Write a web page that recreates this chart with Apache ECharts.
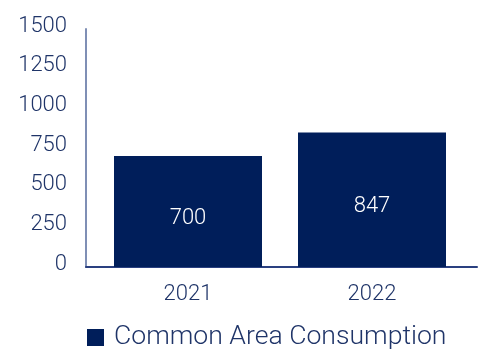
<!DOCTYPE html>
<html>
<head>
<meta charset="utf-8">
<script src="https://cdn.jsdelivr.net/npm/echarts@6/dist/echarts.min.js"></script>
<style>
  html, body { margin: 0; padding: 0; background: #ffffff; }
  #chart { width: 478px; height: 349px; }
</style>
</head>
<body>
<div id="chart"></div>
<script>
// Yearly common-area consumption
const years = ['2021', '2022'];
const consumption = [700, 847];
const seriesName = 'Common Area Consumption';
const yTicks = [0, 250, 500, 750, 1000, 1250, 1500];

const navy = '#001e5a';
const textColor = '#1f3468';
const font = 'Roboto';

const chart = echarts.init(document.getElementById('chart'));
chart.setOption({
  animation: false,
  grid: [
    { left: 96, right: 14, top: 29, bottom: 82 },
    // full-width frame used only for the baseline
    { left: 86, right: 1, top: 29, bottom: 82 }
  ],
  legend: {
    data: [seriesName],
    left: 82,
    top: 319,
    icon: 'rect',
    itemWidth: 17,
    itemHeight: 17,
    itemGap: 10,
    textStyle: {
      color: textColor, fontFamily: font, fontWeight: 300, fontSize: 26.6,
      padding: [0, 0, 0, 5]
    }
  },
  xAxis: [
    {
      type: 'category',
      gridIndex: 0,
      data: years,
      axisLine: { show: false },
      axisTick: { show: false },
      axisLabel: { color: textColor, fontFamily: font, fontWeight: 300, fontSize: 22, margin: 16 }
    },
    {
      type: 'category',
      gridIndex: 1,
      data: [''],
      axisLine: { show: true, lineStyle: { color: '#2a4080', width: 2 } },
      axisTick: { show: false },
      axisLabel: { show: false }
    }
  ],
  yAxis: [
    {
      type: 'value',
      gridIndex: 0,
      min: yTicks[0],
      max: yTicks[yTicks.length - 1],
      interval: yTicks[1] - yTicks[0],
      offset: 10,
      axisLine: { show: true, lineStyle: { color: '#7f8fb5', width: 2 } },
      axisTick: { show: false },
      splitLine: { show: false },
      axisLabel: {
        color: textColor, fontFamily: font, fontWeight: 300, fontSize: 22,
        margin: 19, verticalAlign: 'bottom', lineHeight: 6,
        formatter: (v) => String(v)
      }
    },
    { type: 'value', gridIndex: 1, show: false, min: 0, max: 1500 }
  ],
  series: [
    {
      name: seriesName,
      type: 'bar',
      xAxisIndex: 0,
      yAxisIndex: 0,
      data: consumption,
      barWidth: 148,
      itemStyle: { color: navy },
      label: {
        show: true,
        position: 'inside',
        offset: [0, 7],
        color: '#ffffff',
        fontFamily: font,
        fontWeight: 300,
        fontSize: 22
      }
    }
  ]
});
</script>
</body>
</html>
